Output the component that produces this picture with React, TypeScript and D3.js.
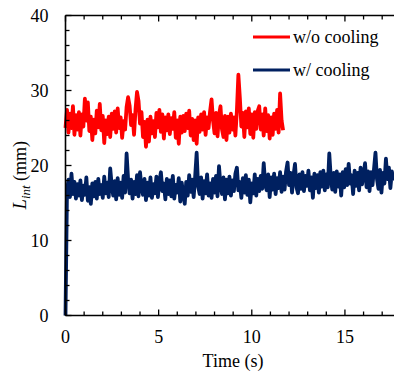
import React from "react";
import * as d3 from "d3";

const STEP = 0.08;

const redValues: number[] = [
  25.0, 27.4, 24.4, 26.9, 25.0, 27.9, 24.1, 26.7, 24.8, 27.1,
  24.0, 26.8, 25.2, 28.9, 26.0, 28.4, 24.6, 26.5, 23.4, 26.1,
  24.3, 27.3, 25.1, 28.2, 24.7, 26.6, 23.0, 26.0, 24.2, 26.5,
  23.8, 26.9, 24.9, 27.2, 24.4, 27.6, 25.0, 26.4, 23.7, 25.9,
  24.8, 27.8, 29.1, 28.0, 25.4, 26.7, 24.1, 27.5, 29.8, 28.6,
  25.6, 27.1, 23.8, 25.8, 22.5, 26.1, 23.2, 26.5, 24.3, 25.9,
  23.8, 27.0, 25.1, 27.4, 24.5, 26.8, 23.6, 26.4, 24.7, 26.8,
  24.2, 26.3, 24.9, 27.1, 23.7, 26.0, 22.9, 26.5, 24.4, 26.6,
  24.6, 26.9, 25.0, 27.3, 24.0, 26.2, 23.4, 26.0, 22.9, 26.4,
  24.5, 26.8, 24.8, 27.1, 24.1, 26.4, 25.0, 27.2, 28.8, 26.0,
  24.3, 27.0, 23.9, 26.7, 27.9, 24.8, 23.8, 26.6, 23.4, 26.5,
  24.4, 26.9, 24.8, 26.4, 24.0, 27.3, 32.1, 29.0, 25.2, 27.0,
  23.8, 27.2, 25.1, 27.6, 24.2, 26.8, 23.7, 27.1, 24.9, 27.3,
  27.9, 24.8, 26.8, 24.0, 27.6, 24.6, 26.7, 23.6, 26.4, 24.1,
  26.9, 24.9, 27.4, 24.4, 29.6, 26.0, 24.7,
];

const blueValues: number[] = [
  0, 16.6, 18.1, 15.8, 18.9, 16.2, 17.8, 15.6, 17.5, 16.0,
  18.0, 15.4, 17.3, 16.1, 18.4, 15.3, 17.1, 14.9, 17.6, 15.9,
  17.8, 15.6, 18.2, 16.2, 17.4, 15.7, 18.5, 16.3, 17.7, 15.8,
  19.6, 17.4, 16.0, 17.9, 15.5, 18.3, 16.1, 17.7, 15.7, 18.6,
  16.4, 21.6, 18.2, 16.3, 18.1, 15.6, 17.8, 16.2, 18.7, 15.9,
  19.1, 17.0, 16.1, 18.2, 15.4, 17.7, 16.0, 18.4, 15.7, 17.5,
  16.3, 18.5, 15.8, 17.9, 19.1, 16.6, 17.6, 15.5, 18.2, 16.2,
  18.0, 15.9, 18.6, 15.6, 17.4, 16.4, 18.3, 15.2, 17.7, 16.1,
  14.9, 17.8, 16.0, 18.7, 16.5, 18.1, 15.8, 18.5, 21.7, 17.2,
  16.2, 18.4, 15.6, 17.9, 16.3, 18.8, 16.0, 17.6, 15.7, 18.2,
  16.4, 18.6, 15.9, 19.9, 17.3, 16.2, 18.4, 15.5, 18.1, 16.3,
  18.5, 16.0, 18.0, 16.6, 18.9, 19.7, 16.7, 17.8, 15.7, 18.3,
  16.4, 18.7, 16.1, 18.1, 15.1, 17.6, 16.3, 18.8, 16.0, 18.2,
  16.6, 18.6, 16.9, 20.3, 17.5, 16.7, 18.8, 15.8, 18.4, 16.8,
  18.9, 16.2, 18.3, 17.0, 19.1, 16.5, 18.5, 16.8, 19.2, 20.4,
  17.4, 19.0, 16.4, 18.7, 20.2, 17.1, 16.3, 18.8, 16.9, 19.1,
  16.6, 18.6, 17.3, 19.3, 16.7, 18.4, 15.7, 18.9, 17.0, 18.7,
  16.4, 19.1, 17.2, 19.3, 16.7, 18.8, 17.1, 21.6, 18.4, 16.8,
  19.0, 16.5, 19.2, 17.2, 18.8, 16.0, 19.1, 17.1, 19.5, 17.4,
  20.2, 17.6, 18.7, 16.2, 19.3, 17.3, 19.0, 16.7, 19.7, 17.5,
  18.8, 20.3, 17.1, 19.2, 16.6, 19.1, 17.4, 19.5, 21.7, 18.2,
  16.9, 19.4, 16.4, 19.0, 17.6, 20.9, 18.2, 19.7, 17.0, 19.2,
  18.0,
];

const seriesNames = ["w/o cooling", "w/ cooling"];
const seriesColors = ["#ff0000", "#002060"];
const xMajorTicks = [0, 5, 10, 15];
const xMinorTicks = d3.range(0, 18, 1);
const yMajorTicks = [0, 10, 20, 30, 40];
const yMinorTicks = d3.range(0, 41, 2);

const FONT = "'Liberation Serif', 'Times New Roman', serif";

export default function App() {
  const W = 394;
  const H = 377;
  const x = d3.scaleLinear().domain([0, 17.65]).range([65.5, 394.3]);
  const y = d3.scaleLinear().domain([0, 40]).range([315.5, 15.5]);

  const line = d3
    .line<number>()
    .x((_, i) => x(i * STEP))
    .y((d) => y(d));

  const x0 = x(0);
  const y0 = y(0);
  const yTop = y(40);

  return (
    <svg
      width={W}
      height={H}
      style={{ position: "absolute", left: 0, top: 0, background: "#fff" }}
      fontFamily={FONT}
    >
      <rect width={W} height={H} fill="#fff" />
      {/* data */}
      <path d={line(redValues) || ""} fill="none" stroke={seriesColors[0]} strokeWidth={3.8} strokeLinejoin="round" />
      <path d={line(blueValues) || ""} fill="none" stroke={seriesColors[1]} strokeWidth={3.8} strokeLinejoin="round" />

      {/* axes lines */}
      <line x1={x0} x2={W} y1={y0} y2={y0} stroke="#000" strokeWidth={1.6} />
      <line x1={x0} x2={W} y1={yTop} y2={yTop} stroke="#000" strokeWidth={1.6} />
      <line x1={x0} x2={x0} y1={yTop} y2={y0} stroke="#000" strokeWidth={1.6} />

      {/* x ticks bottom & top */}
      {xMinorTicks.map((t) => {
        const major = t % 5 === 0;
        const len = major ? 6 : 4;
        return (
          <g key={"xt" + t}>
            <line x1={x(t)} x2={x(t)} y1={y0} y2={y0 - len} stroke="#000" strokeWidth={1.3} />
            <line x1={x(t)} x2={x(t)} y1={yTop} y2={yTop + len} stroke="#000" strokeWidth={1.3} />
          </g>
        );
      })}
      {/* y ticks */}
      {yMinorTicks.map((t) => {
        const major = t % 10 === 0;
        const len = major ? 6 : 4;
        return (
          <line key={"yt" + t} x1={x0} x2={x0 + len} y1={y(t)} y2={y(t)} stroke="#000" strokeWidth={1.3} />
        );
      })}

      {/* tick labels */}
      {xMajorTicks.map((t) => (
        <text key={"xl" + t} x={x(t)} y={343} fontSize={18} textAnchor="middle" fill="#000">
          {t}
        </text>
      ))}
      {yMajorTicks.map((t) => (
        <text key={"yl" + t} x={48.5} y={y(t) + 6} fontSize={18} textAnchor="end" fill="#000">
          {t}
        </text>
      ))}

      {/* axis titles */}
      <text x={233} y={367} fontSize={18} textAnchor="middle" fill="#000">
        Time (s)
      </text>
      <text transform="translate(26,175) rotate(-90)" fontSize={18} textAnchor="middle" fill="#000">
        <tspan fontStyle="italic">L</tspan>
        <tspan fontStyle="italic" fontSize={13} dy={4}>int</tspan>
        <tspan dy={-4}> (mm)</tspan>
      </text>

      {/* legend */}
      {seriesNames.map((n, i) => {
        const ly = i === 0 ? 37 : 70;
        return (
          <g key={n}>
            <line x1={253} x2={290} y1={ly} y2={ly} stroke={seriesColors[i]} strokeWidth={3} />
            <text x={293} y={ly + 6} fontSize={18} fill="#000">
              {n}
            </text>
          </g>
        );
      })}
    </svg>
  );
}
